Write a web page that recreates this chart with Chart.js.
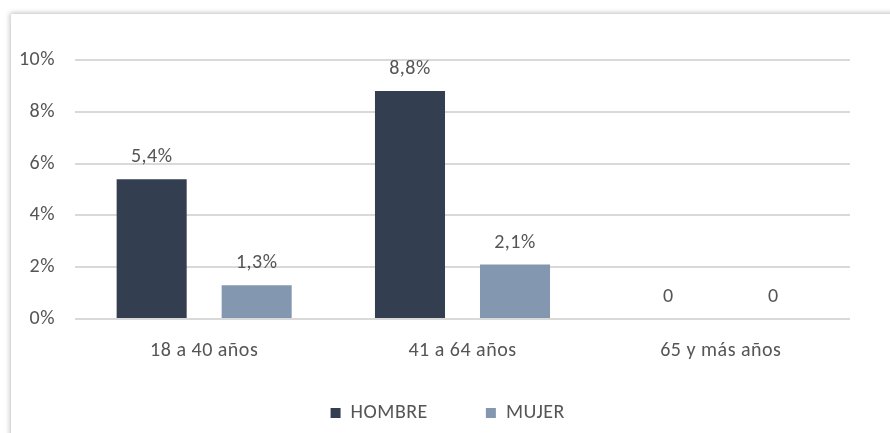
<!DOCTYPE html>
<html>
<head>
<meta charset="utf-8">
<script src="https://cdn.jsdelivr.net/npm/chart.js@4/dist/chart.umd.min.js"></script>
<style>
  html, body { margin: 0; padding: 0; background: #fff; }
  #wrap { position: relative; width: 890px; height: 433px; overflow: hidden; }
  #frame {
    position: absolute; left: 11px; top: 14px; width: 900px; height: 440px;
    background: #fff; box-shadow: -1px -1px 5px rgba(0,0,0,0.25);
  }
  #chart { position: absolute; left: 0; top: 0; }
</style>
</head>
<body>
<div id="wrap">
  <div id="frame"></div>
  <canvas id="chart" width="890" height="433"></canvas>
</div>
<script>
// Grupos de edad y porcentajes por sexo
const categorias = ['18 a 40 años', '41 a 64 años', '65 y más años'];
const hombre = [5.4, 8.8, 0];
const mujer = [1.3, 2.1, 0];
const series = ['HOMBRE', 'MUJER'];

const textColor = '#555555';
const fontFamily = 'Carlito, Lato, "Liberation Sans", sans-serif';
const fontSize = 20;

// un poco de espaciado entre letras para todos los textos
const spacing = {
    id: 'spacing',
    beforeDraw(chart) { chart.ctx.letterSpacing = '0.5px'; }
};

// Etiquetas de valor encima de cada barra
const valueLabels = {
    id: 'valueLabels',
    afterDatasetsDraw(chart) {
        const ctx = chart.ctx;
        ctx.save();
        ctx.fillStyle = textColor;
        ctx.font = fontSize + 'px ' + fontFamily;
        ctx.textAlign = 'center';
        ctx.textBaseline = 'bottom';
        chart.data.datasets.forEach((ds, i) => {
            chart.getDatasetMeta(i).data.forEach((bar, j) => {
                const v = ds.data[j];
                const txt = v === 0 ? '0' : v.toFixed(1).replace('.', ',') + '%';
                ctx.fillText(txt, bar.x, bar.y - 12);
            });
        });
        ctx.restore();
    }
};

new Chart(document.getElementById('chart'), {
    type: 'bar',
    data: {
        labels: categorias,
        datasets: [
            { label: series[0], data: hombre, backgroundColor: '#333f50' },
            { label: series[1], data: mujer, backgroundColor: '#8497b0' }
        ]
    },
    options: {
        responsive: false,
        animation: false,
        categoryPercentage: 0.813,
        barPercentage: 0.667,
        layout: { padding: { left: 0, right: 0, top: 60, bottom: 0 } },
        plugins: {
            legend: {
                position: 'bottom',
                labels: {
                    color: textColor,
                    font: { family: fontFamily, size: 20 },
                    boxWidth: 10,
                    boxHeight: 10,
                    padding: 58
                }
            },
            tooltip: { enabled: false }
        },
        scales: {
            x: {
                grid: { display: false },
                border: { display: false },
                afterFit(scale) { scale.height = 26; },
                // mirror evita el recorte de las etiquetas al alto reducido del eje
                ticks: { mirror: true, color: textColor, font: { family: fontFamily, size: fontSize }, padding: -44 }
            },
            y: {
                min: 0,
                max: 10,
                afterFit(scale) { scale.width = 75; },
                grid: { color: '#d9d9d9', lineWidth: 2, drawTicks: false },
                border: { display: false },
                ticks: {
                    stepSize: 2,
                    padding: 20,
                    color: textColor,
                    font: { family: fontFamily, size: fontSize },
                    callback: v => v + '%'
                }
            },
            // margen derecho vacío
            margen: {
                position: 'right',
                grid: { display: false },
                border: { display: false },
                ticks: { display: false },
                afterFit(scale) { scale.width = 40; }
            }
        }
    },
    plugins: [spacing, valueLabels]
});
</script>
</body>
</html>
